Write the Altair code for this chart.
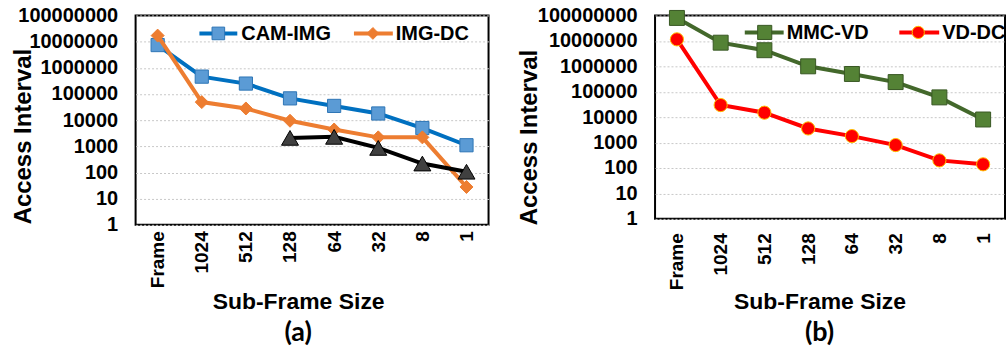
import altair as alt
import pandas as pd

# ---------------- data ----------------
categories = ["Frame", "1024", "512", "128", "64", "32", "8", "1"]

cam_img = [7.4e6, 4.6e5, 2.5e5, 6.8e4, 3.5e4, 1.8e4, 5000, 1100]
img_dc = [1.7e7, 4.9e4, 2.8e4, 9500, 4400, 2200, 2200, 28]
black_cats = ["128", "64", "32", "8", "1"]
black_vals = [2100, 2300, 870, 220, 107]

mmc_vd = [8.0e7, 8.5e6, 4.3e6, 1.0e6, 5.0e5, 2.4e5, 6.0e4, 8100]
vd_dc = [1.15e7, 3.0e4, 1.5e4, 3600, 1800, 800, 200, 140]

y_ticks = [1, 10, 100, 1000, 10000, 100000, 1000000, 10000000, 100000000]

FONT = "Liberation Sans"
TAGFONT = "Lato"


def x_enc(label_pad, title_x, title_y):
    return alt.X(
        "cat:N",
        sort=categories,
        scale=alt.Scale(type="point", padding=0.5, domain=categories),
        axis=alt.Axis(
            title="Sub-Frame Size",
            labelAngle=270,
            labelAlign="right",
            labelBaseline="middle",
            labelPadding=label_pad,
            labelFont=FONT,
            labelFontSize=19,
            labelFontWeight="bold",
            labelColor="black",
            ticks=False,
            domain=False,
            grid=False,
            titleFont=FONT,
            titleFontSize=23,
            titleFontWeight="bold",
            titleColor="black",
            titleX=title_x,
            titleY=title_y,
            titleAlign="center",
            titleBaseline="alphabetic",
        ),
    )


def y_enc(title_x, title_y):
    return alt.Y(
        "val:Q",
        scale=alt.Scale(type="log", domain=[1, 1e8], nice=False),
        axis=alt.Axis(
            values=y_ticks,
            format="d",
            ticks=False,
            domain=False,
            grid=True,
            gridColor="#C8C8C8",
            gridDash=[2, 2],
            gridWidth=1,
            labelOverlap=False,
            labelPadding=18,
            labelFont=FONT,
            labelFontSize=20,
            labelFontWeight="bold",
            labelColor="black",
            title="Access Interval",
            titleFont=FONT,
            titleFontSize=24,
            titleFontWeight="bold",
            titleColor="black",
            titleAngle=270,
            titleAlign="center",
            titleBaseline="middle",
            titleX=title_x,
            titleY=title_y,
        ),
    )


def series(cats, vals, X, Y, line_color, shape, size, fill, stroke, sw=1):
    df = pd.DataFrame({"cat": cats, "val": vals})
    base = alt.Chart(df).encode(x=X, y=Y)
    line = base.mark_line(color=line_color, strokeWidth=4)
    pts = base.mark_point(shape=shape, size=size, filled=True, fill=fill,
                          stroke=stroke, strokeWidth=sw, opacity=1)
    return [line, pts]


def legend_entry(label, x1, x2, xm, xt, y, line_color, shape, size, fill, stroke):
    d = pd.DataFrame({"t": [label]})
    rule = alt.Chart(d).mark_rule(color=line_color, strokeWidth=4).encode(
        x=alt.value(x1), x2=alt.value(x2), y=alt.value(y))
    pt = alt.Chart(d).mark_point(shape=shape, size=size, filled=True, fill=fill,
                                 stroke=stroke, strokeWidth=1, opacity=1).encode(
        x=alt.value(xm), y=alt.value(y))
    txt = alt.Chart(d).mark_text(font=FONT, fontSize=20, fontWeight="bold",
                                 align="left", baseline="middle", color="black").encode(
        text="t:N", x=alt.value(xt), y=alt.value(y + 1))
    return [rule, pt, txt]


def tag(label, x, y):
    d = pd.DataFrame({"t": [label]})
    return alt.Chart(d).mark_text(font=TAGFONT, fontSize=27, fontWeight="bold",
                                  align="center", baseline="alphabetic",
                                  color="black").encode(
        text="t:N", x=alt.value(x), y=alt.value(y))


# ---------------- panel (a) ----------------
Xa = x_enc(6, 163, 84)
Ya = y_enc(-112, 121)
layers_a = []
layers_a += series(categories, cam_img, Xa, Ya, "#0070C0", "square", 175, "#5B9BD5", "#2E75B6")
layers_a += series(categories, img_dc, Xa, Ya, "#ED7D31", "diamond", 170, "#ED7D31", "#ED7D31")
layers_a += series(black_cats, black_vals, Xa, Ya, "black", "triangle-up", 290, "#404040", "black")
layers_a += legend_entry("CAM-IMG", 64, 102, 83, 106, 18, "#0070C0", "square", 160, "#5B9BD5", "#2E75B6")
layers_a += legend_entry("IMG-DC", 219, 258, 238, 261, 18, "#ED7D31", "diamond", 140, "#ED7D31", "#ED7D31")
layers_a.append(tag("(a)", 163, 326))
panel_a = alt.layer(*layers_a).properties(width=354, height=210)

# ---------------- panel (b) ----------------
Xb = x_enc(14, 165, 90)
Yb = y_enc(-126, 122)
layers_b = []
layers_b += series(categories, mmc_vd, Xb, Yb, "#43682B", "square", 225, "#548235", "#385723")
layers_b += series(categories, vd_dc, Xb, Yb, "#FF0000", "circle", 175, "#FF0000", "#FFC000")
layers_b += legend_entry("MMC-VD", 90, 129, 110, 132, 17, "#43682B", "square", 200, "#548235", "#385723")
layers_b += legend_entry("VD-DC", 245, 285, 264, 288, 17, "#FF0000", "circle", 150, "#FF0000", "#FFC000")
layers_b.append(tag("(b)", 165, 326))
panel_b = alt.layer(*layers_b).properties(width=351, height=204)

chart = (
    alt.hconcat(panel_a, panel_b, spacing=26)
    .properties(padding={"left": 11, "top": 4, "right": 0, "bottom": 0}, background="white")
    .configure_view(stroke="black", strokeWidth=2)
)

chart.save("out.html", embed_options={"renderer": "svg", "actions": False})
